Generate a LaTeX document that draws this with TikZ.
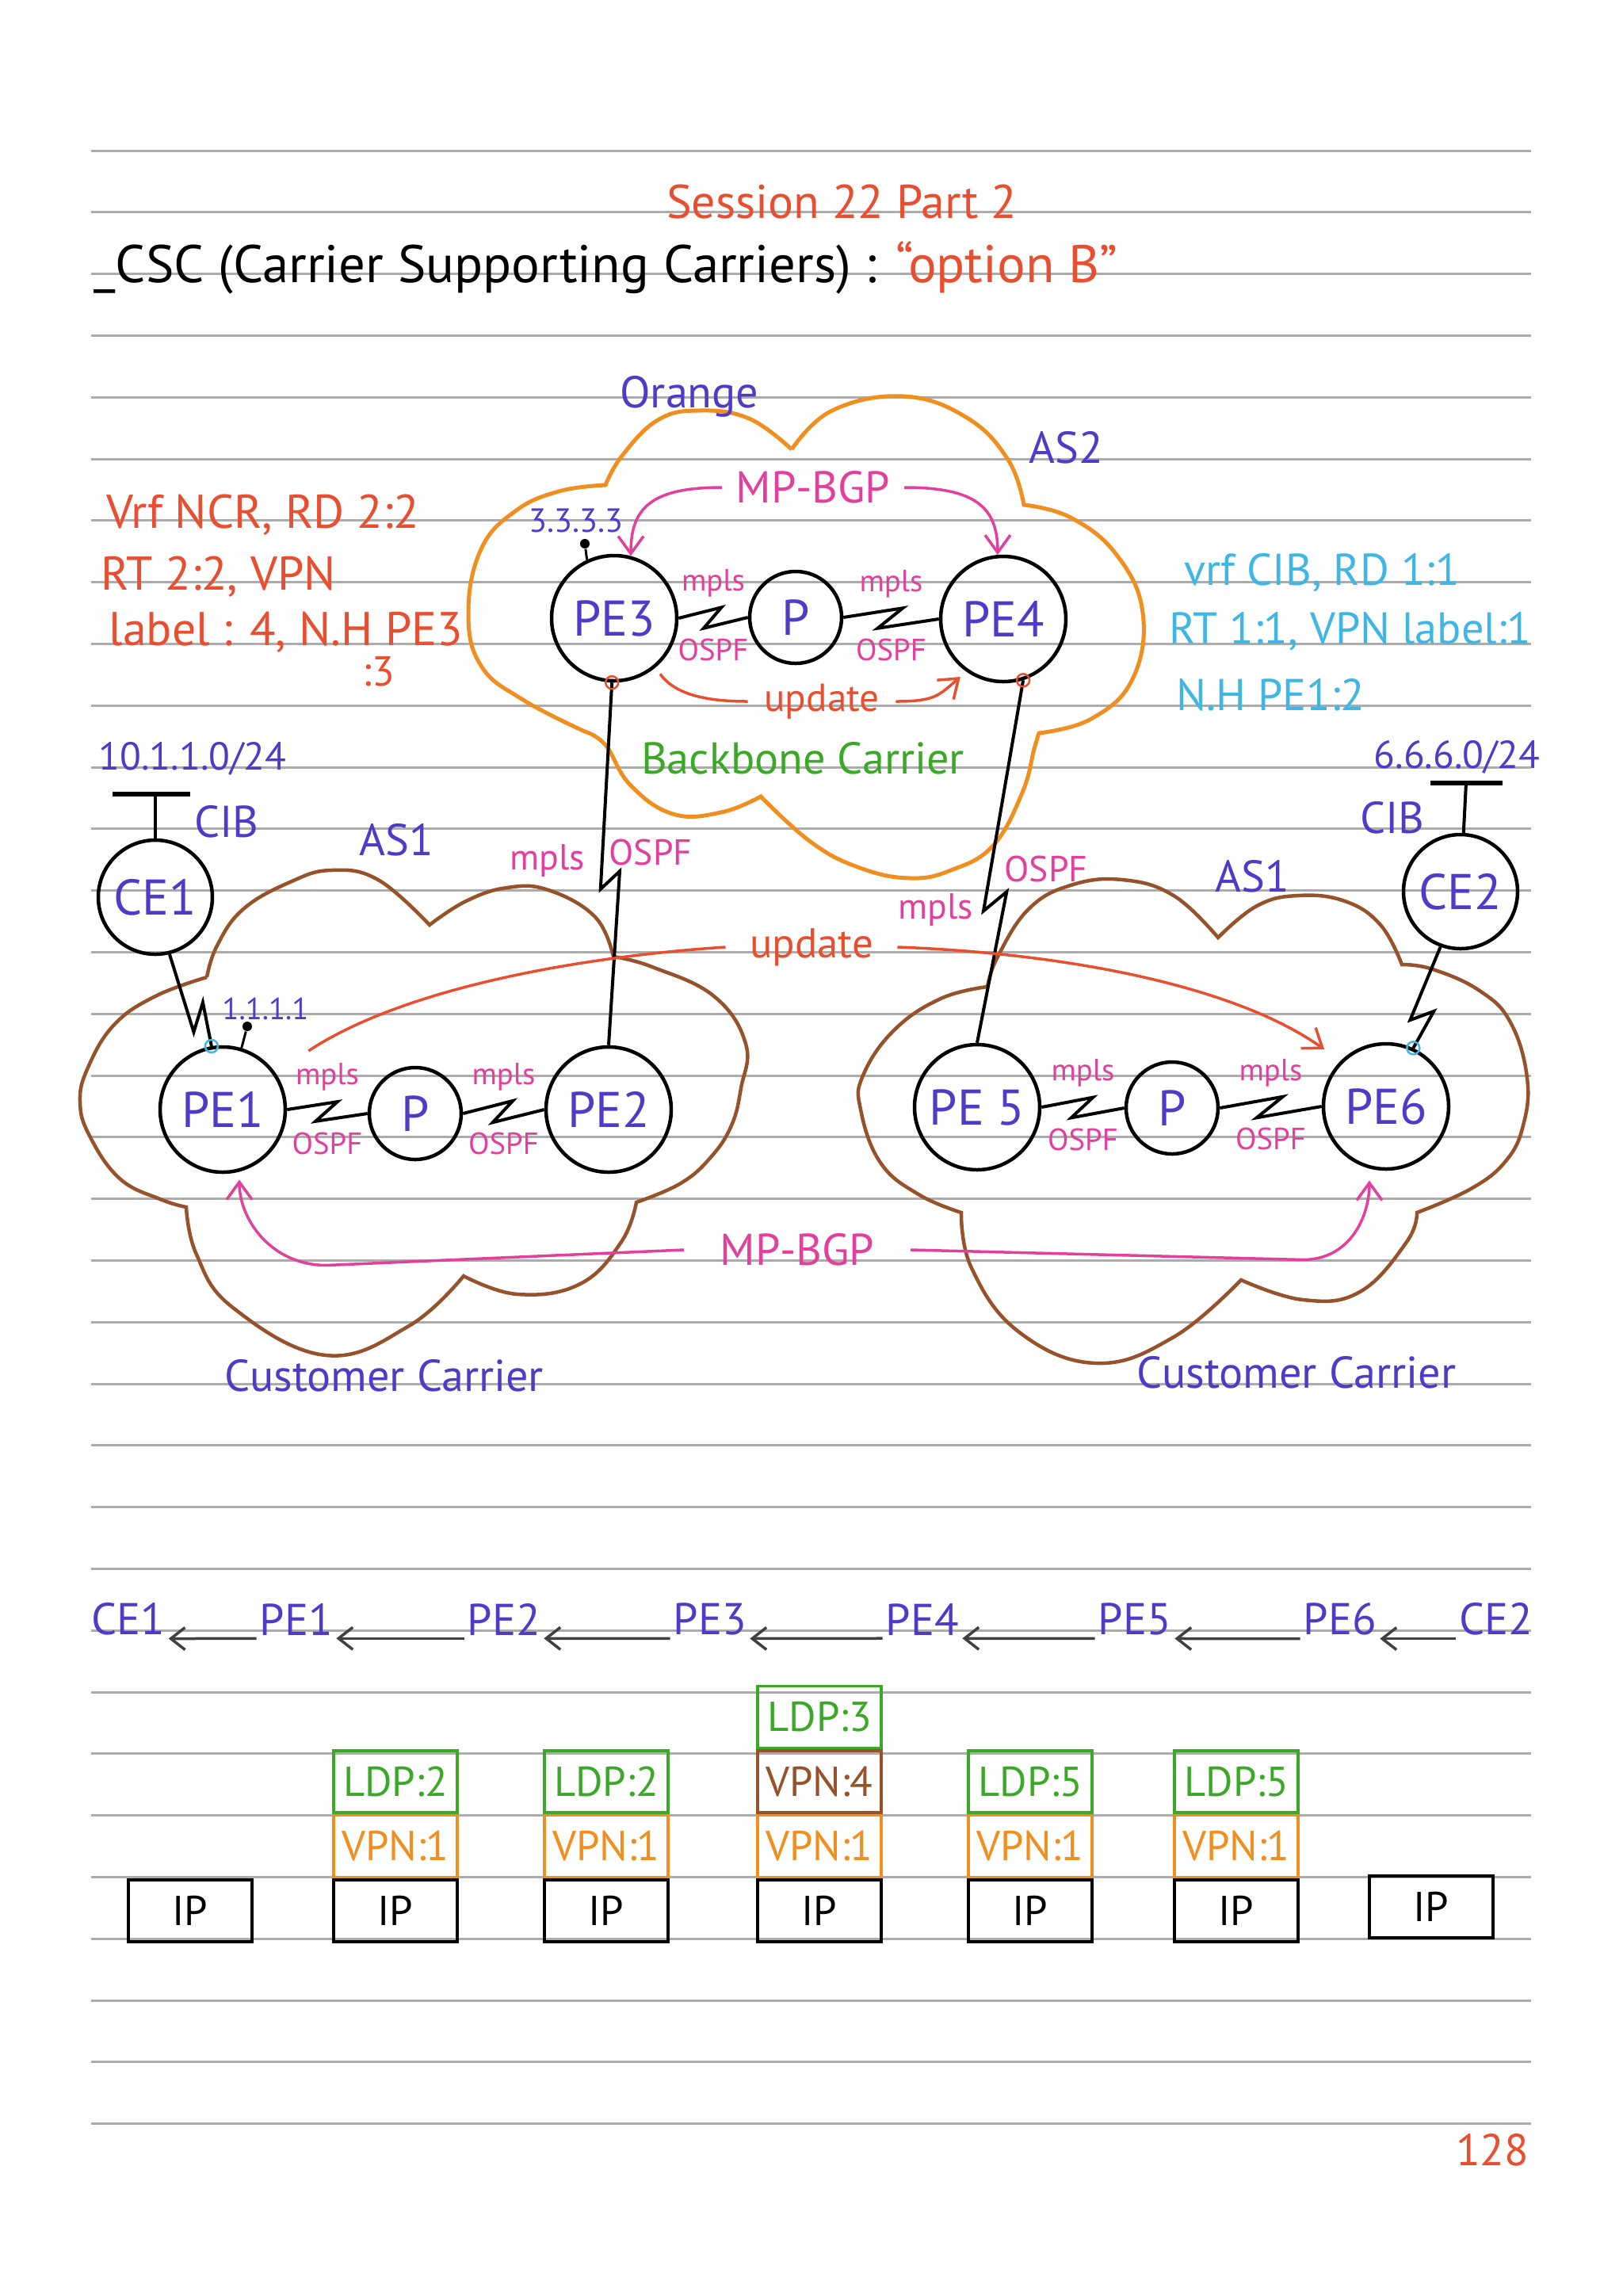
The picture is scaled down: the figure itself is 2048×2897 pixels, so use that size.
\documentclass[tikz,border=0pt]{standalone}
\usepackage{fontspec}
\setmainfont{PT Sans}
\usetikzlibrary{calc,positioning,arrows.meta}

\definecolor{inkblue}{RGB}{78,60,200}
\definecolor{inkred}{RGB}{232,78,48}
\definecolor{inkpink}{RGB}{226,64,156}
\definecolor{inkcyan}{RGB}{64,182,228}
\definecolor{inkgreen}{RGB}{60,168,40}
\definecolor{inkorange}{RGB}{240,142,32}
\definecolor{inkbrown}{RGB}{150,82,42}
\definecolor{rulegray}{RGB}{172,172,172}

\begin{document}
\begin{tikzpicture}[
   x=0.1mm,y=-0.1mm,>={Straight Barb[length=2.2mm,width=3.2mm]},
   rule/.style={draw=rulegray,line width=0.3mm},
   perouter/.style={circle,draw,line width=0.45mm,minimum size=15.8mm,inner sep=0pt,
     text=inkblue,font=\fontsize{18}{20}\selectfont},
   prouter/.style={perouter,minimum size=11.6mm},
   cerouter/.style={perouter,minimum size=14.4mm},
   link/.style={line width=0.4mm},
   zig/.style n args={3}{to path={
     -- ($(\tikztostart)!#1!(\tikztotarget)!#3!90:(\tikztotarget)$)
     -- ($(\tikztostart)!#2!(\tikztotarget)!#3!-90:(\tikztotarget)$)
     -- (\tikztotarget) \tikztonodes}},
   proto/.style={text=inkpink,font=\fontsize{11}{12}\selectfont,inner sep=1pt},
   hand/.style={font=\fontsize{16}{18}\selectfont,inner sep=0pt},
   bbcloud/.style={draw=inkorange,line width=0.5mm},
   cccloud/.style={draw=inkbrown,line width=0.45mm},
   bgparrow/.style={draw=inkpink,line width=0.35mm},
   updarrow/.style={draw=inkred,line width=0.35mm},
   ifmark/.style={circle,draw,line width=0.25mm,minimum size=1.6mm,inner sep=0pt},
   lodot/.style={circle,fill,minimum size=1.2mm,inner sep=0pt},
   stackbox/.style={draw,line width=0.35mm,minimum width=15.6mm,minimum height=7.8mm,
     inner sep=0pt,font=\fontsize{15}{17}\selectfont},
   hop/.style={text=inkblue,font=\fontsize{16}{18}\selectfont,inner sep=1pt},
   hoparrow/.style={{Straight Barb[length=1.8mm,width=2.8mm]}-,line width=0.35mm,black!75}
 ]
 \useasboundingbox (0,0) rectangle (2048,2897);
 \fill[white] (0,0) rectangle (2048,2897);

 % ruled paper
 \foreach \i in {0,...,32}
   \draw[rule] (115,{190+77.8*\i}) -- (1932,{190+77.8*\i});

 % heading
 \node[hand,text=inkred,font=\fontsize{17}{19}\selectfont] (title) at (1062,255) {Session 22 Part 2};
 \node[hand,anchor=west,font=\fontsize{19}{21}\selectfont] (topic) at (118,338)
   {\_CSC (Carrier Supporting Carriers) : \textcolor{inkred}{“option B”}};

 % clouds
 \draw[bbcloud] plot[smooth,tension=0.7] coordinates {(999,567) (1050,518) (1140,500) (1220,527) (1272,580) (1292,637)}
   -- plot[smooth,tension=0.7] coordinates {(1292,637) (1351,653) (1409,700) (1442,773) (1429,857) (1377,907) (1311,925)}
   -- plot[smooth,tension=0.7] coordinates {(1311,925) (1305,945) (1290,1000) (1253,1067) (1200,1098) (1148,1108) (1085,1095) (1024,1063) (960,1005)}
   -- plot[smooth,tension=0.7] coordinates {(960,1005) (910,1025) (849,1027) (795,990) (764,940) (738,923)}
   -- plot[smooth,tension=0.7] coordinates {(738,923) (660,883) (607,840) (591,773) (607,693) (650,645) (705,620) (764,612)}
   -- plot[smooth,tension=0.7] coordinates {(764,612) (785,575) (830,530) (882,518) (945,528) (999,567)};
 \draw[cccloud] plot[smooth,tension=0.7] coordinates {(261,1233) (274,1193) (307,1147) (366,1113) (418,1098) (477,1110) (542,1167)}
   -- plot[smooth,tension=0.7] coordinates {(542,1167) (588,1137) (640,1120) (692,1123) (751,1157) (774,1207)}
   -- plot[smooth,tension=0.7] coordinates {(774,1207) (823,1220) (901,1257) (941,1317) (935,1373) (923,1420) (897,1460) (859,1493) (803,1517)}
   -- plot[smooth,tension=0.7] coordinates {(803,1517) (784,1567) (732,1620) (653,1633) (585,1610)}
   -- plot[smooth,tension=0.7] coordinates {(585,1610) (516,1673) (411,1710) (294,1650) (248,1583) (235,1523)}
   -- plot[smooth,tension=0.7] coordinates {(235,1523) (202,1513) (151,1487) (113,1433) (101,1390) (111,1347) (144,1293) (196,1257) (261,1233)};
 \draw[cccloud] plot[smooth,tension=0.7] coordinates {(1246,1245) (1259,1207) (1298,1147) (1351,1117) (1416,1110) (1481,1130) (1537,1183)}
   -- plot[smooth,tension=0.7] coordinates {(1537,1183) (1586,1143) (1638,1130) (1697,1137) (1742,1167) (1769,1217)}
   -- plot[smooth,tension=0.7] coordinates {(1769,1217) (1808,1223) (1867,1250) (1906,1290) (1927,1360) (1922,1420) (1900,1465) (1856,1500) (1788,1530)}
   -- plot[smooth,tension=0.7] coordinates {(1788,1530) (1775,1567) (1716,1630) (1644,1640) (1566,1615)}
   -- plot[smooth,tension=0.7] coordinates {(1566,1615) (1481,1687) (1383,1720) (1285,1680) (1226,1600) (1213,1530)}
   -- plot[smooth,tension=0.7] coordinates {(1213,1530) (1159,1507) (1111,1467) (1086,1400) (1089,1357) (1128,1300) (1187,1260) (1246,1245)};

 % routers
 \node[perouter] (pe3) at (775,780) {PE3};
 \node[prouter] (pc) at (1004,779) {P};
 \node[perouter] (pe4) at (1266,781) {PE4};
 \node[cerouter] (ce1) at (196,1132) {CE1};
 \node[perouter] (pe1) at (281,1400) {PE1};
 \node[prouter] (pl) at (524,1405) {P};
 \node[perouter] (pe2) at (768,1400) {PE2};
 \node[perouter] (pe5) at (1233,1397) {PE 5};
 \node[prouter] (pr) at (1479,1398) {P};
 \node[perouter] (pe6) at (1749,1396) {PE6};
 \node[cerouter] (ce2) at (1843,1125) {CE2};

 % serial links
 \foreach \a/\b in {pe3/pc,pc/pe4,pe1/pl,pl/pe2,pe5/pr,pr/pe6} {
   \draw[link] (\a.east) to[zig={0.62}{0.36}{1.3mm}] (\b.west);
   \path (\a.east) -- node[proto,above=2.2mm] (mp\a) {mpls}
     node[proto,below=2.2mm] (os\a) {OSPF} (\b.west);
 }
 \draw[link] (pe3.268) to[zig={0.57}{0.52}{-1.2mm}] (pe2.north);
 \draw[link] (pe4.288) to[zig={0.64}{0.58}{-1.3mm}] (pe5.north);
 \draw[link] (ce1.284) to[zig={0.8}{0.57}{-1.3mm}] (pe1.100);
 \draw[link] (ce2.250) to[zig={0.75}{0.61}{-1.3mm}] (pe6.65);
 \node[proto,font=\fontsize{13}{15}\selectfont] (mp32) at (691,1086) {mpls};
 \node[proto,font=\fontsize{13}{15}\selectfont] (os32) at (821,1075) {OSPF};
 \node[proto,font=\fontsize{13}{15}\selectfont] (mp45) at (1181,1148) {mpls};
 \node[proto,font=\fontsize{13}{15}\selectfont] (os45) at (1320,1096) {OSPF};

 % interfaces and loopbacks
 \node[ifmark,draw=inkred] (if3) at (pe3.268) {};
 \node[ifmark,draw=inkred] (if4) at (pe4.288) {};
 \node[ifmark,draw=inkcyan] (if1) at (pe1.100) {};
 \node[ifmark,draw=inkcyan] (if6) at (pe6.65) {};
 \node[lodot] (lo3) at (738,686) {};
 \draw[line width=0.3mm] (pe3.115) -- (lo3);
 \node[lodot] (lo1) at (312,1295) {};
 \draw[line width=0.3mm] (pe1.73) -- (lo1);
 \node[hand,text=inkblue,font=\fontsize{12}{14}\selectfont] (lo3txt) at (727,657) {3.3.3.3};
 \node[hand,text=inkblue,font=\fontsize{11}{13}\selectfont] (lo1txt) at (335,1273) {1.1.1.1};

 % customer lans
 \coordinate (lan1) at (196,1002);
 \coordinate (lan2) at (1850,988);
 \draw[link] (ce1) -- (lan1);
 \draw[link] (ce2) -- (lan2);
 \draw[line width=0.55mm] ($(lan1)+(-54,0)$) -- ($(lan1)+(44,0)$);
 \draw[line width=0.55mm] ($(lan2)+(-45,0)$) -- ($(lan2)+(46,0)$);
 \node[hand,anchor=west,text=inkblue,font=\fontsize{14}{16}\selectfont] (net1) at (124,957) {10.1.1.0/24};
 \node[hand,anchor=west,text=inkblue,font=\fontsize{14}{16}\selectfont] (net2) at (1733,955) {6.6.6.0/24};

 % labels
 \node[hand,text=inkblue] (orng) at (870,500) {Orange};
 \node[hand,text=inkblue] (as2) at (1345,565) {AS2};
 \node[hand,text=inkblue] (cib1) at (286,1037) {CIB};
 \node[hand,text=inkblue] (cib2) at (1757,1032) {CIB};
 \node[hand,text=inkblue] (as1l) at (500,1060) {AS1};
 \node[hand,text=inkblue] (as1r) at (1580,1106) {AS1};
 \node[hand,text=inkgreen] (bbc) at (1013,957) {Backbone Carrier};
 \node[hand,text=inkblue] (ccl) at (485,1736) {Customer Carrier};
 \node[hand,text=inkblue] (ccr) at (1636,1732) {Customer Carrier};

 % vrf notes
 \node[hand,anchor=west,text=inkred,font=\fontsize{17}{19}\selectfont] (ncr1) at (134,650) {Vrf NCR, RD 2:2};
 \node[hand,anchor=west,text=inkred,font=\fontsize{17}{19}\selectfont] (ncr2) at (127,728) {RT 2:2, VPN};
 \node[hand,anchor=west,text=inkred,font=\fontsize{17}{19}\selectfont] (ncr3) at (137,798) {label : 4, N.H PE3};
 \node[hand,text=inkred,font=\fontsize{15}{17}\selectfont] (ncr4) at (478,847) {:3};
 \node[hand,anchor=west,text=inkcyan] (cib3) at (1494,723) {vrf CIB, RD 1:1};
 \node[hand,anchor=west,text=inkcyan] (cib4) at (1475,797) {RT 1:1, VPN label:1};
 \node[hand,anchor=west,text=inkcyan] (cib5) at (1484,877) {N.H PE1:2};

 % MP-BGP sessions
 \node[hand,text=inkpink,inner xsep=1.7mm] (bgpa) at (1026,615) {MP-BGP};
 \draw[bgparrow,->] (bgpa.west) .. controls +(-90,0) and +(0,-60) .. (pe3.75);
 \draw[bgparrow,->] (bgpa.east) .. controls +(90,0) and +(0,-60) .. (pe4.95);
 \node[hand,text=inkpink,inner xsep=4.5mm] (bgpb) at (1006,1577) {MP-BGP};
 \draw[bgparrow,->,shorten >=1mm] (bgpb.west) -- ($(pe1.-75)+(110,118)$)
   .. controls +(-70,0) and +(0,60) .. (pe1.-75);
 \draw[bgparrow,->,shorten >=1.5mm] (bgpb.east) -- ($(pe6.-105)+(-84,115)$)
   .. controls +(60,0) and +(0,60) .. (pe6.-105);

 % updates
 \node[hand,text=inkred,font=\fontsize{14}{16}\selectfont,inner xsep=2mm] (upda) at (1037,885) {update};
 \draw[updarrow,shorten <=1mm] (pe3.-50) .. controls +(25,35) and +(-50,0) .. (upda.west);
 \draw[updarrow,->,shorten >=1mm] (upda.east) .. controls +(50,0) and +(-35,30) .. (pe4.235);
 \node[hand,text=inkred,font=\fontsize{15}{17}\selectfont,inner xsep=3mm] (updb) at (1024,1195) {update};
 \draw[updarrow,shorten <=5mm] (pe1.35) .. controls (520,1240) and (760,1205) .. (updb.west);
 \draw[updarrow,->,shorten >=2.5mm] (updb.east) .. controls (1350,1203) and (1560,1245) .. (pe6.135);

 % forwarding path
 \foreach \n/\x/\t in {ce1h/162/CE1,pe1h/374/PE1,pe2h/636/PE2,pe3h/896/PE3,
     pe4h/1164/PE4,pe5h/1432/PE5,pe6h/1691/PE6,ce2h/1888/CE2}
   \node[hop] (\n) at (\x,2043) {\t};
 \foreach \a/\b in {ce1h/pe1h,pe1h/pe2h,pe2h/pe3h,pe3h/pe4h,pe4h/pe5h,pe5h/pe6h,pe6h/ce2h}
   \draw[hoparrow] (\a.south east) -- (\b.south west);

 % label stacks
 \foreach \n/\x in {1/240,2/499,3/765,4/1034,5/1300,6/1560}
   \node[stackbox] (ip\n) at (\x,2411) {IP};
 \node[stackbox] (ip7) at (1806,2406) {IP};
 \foreach \n/\l in {2/2,3/2,5/5,6/5} {
   \node[stackbox,draw=inkorange,text=inkorange,above=0pt of ip\n] (vpn\n) {VPN:1};
   \node[stackbox,draw=inkgreen,text=inkgreen,above=0pt of vpn\n] (ldp\n) {LDP:\l};
 }
 \node[stackbox,draw=inkorange,text=inkorange,above=0pt of ip4] (vpn4) {VPN:1};
 \node[stackbox,draw=inkbrown,text=inkbrown,above=0pt of vpn4] (svc4) {VPN:4};
 \node[stackbox,draw=inkgreen,text=inkgreen,above=0pt of svc4] (ldp4) {LDP:3};

 \node[hand,text=inkred] (page) at (1883,2713) {128};
\end{tikzpicture}
\end{document}
